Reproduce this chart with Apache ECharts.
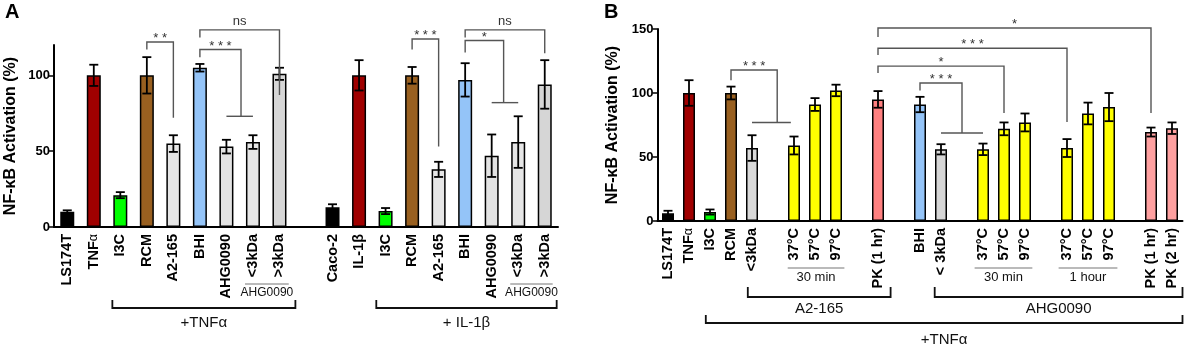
<!DOCTYPE html>
<html>
<head>
<meta charset="utf-8">
<script src="https://cdn.jsdelivr.net/npm/echarts@6/dist/echarts.min.js"></script>
<style>
  html, body { margin: 0; padding: 0; background: #fff; }
  #chart { width: 1192px; height: 348px; }
</style>
</head>
<body>
<div id="chart"></div>
<script>
// ---- panel A: NF-kB activation, TNFa (LS174T) and IL-1b (Caco-2) ----
const catsA = ['LS174T', 'TNFα', 'I3C', 'RCM', 'A2-165', 'BHI', 'AHG0090', '<3kDa', '>3kDa', '',
  'Caco-2', 'IL-1β', 'I3C', 'RCM', 'A2-165', 'BHI', 'AHG0090', '<3kDa', '>3kDa'];
const meanA = [10, 100, 21, 100, 55, 105, 53, 56, 101, null, 13, 100, 10.5, 100, 38, 97, 47, 56, 94];
const errA = [1, 7, 2, 12, 5.5, 2.5, 4.5, 4.5, 4, null, 2, 10, 2, 5.5, 5, 11, 14, 17, 16];
const yTicksA = [0, 50, 100];

// ---- panel B ----
const catsB = ['LS174T', 'TNFα', 'I3C', 'RCM', '<3kDa', '', '37°C', '57°C', '97°C', '', 'PK (1 hr)', '',
  'BHI', '< 3kDa', '', '37°C', '57°C', '97°C', '', '37°C', '57°C', '97°C', '', 'PK (1 hr)', 'PK (2 hr)'];
const meanB = [6, 100, 7, 100, 57, null, 59, 91, 102, null, 95, null,
  91, 56, null, 56, 72, 77, null, 57, 84, 89, null, 69.5, 72.5];
const errB = [2, 10, 2, 5, 10, null, 7, 5, 4.5, null, 6.5, null,
  6, 4, null, 4.5, 5, 7, null, 7, 8.5, 11, null, 3.5, 4.5];
const yTicksB = [0, 50, 100, 150];

// significance brackets: [from, to, lineY, leftEnd, rightEnd, crossFrom, crossTo]
const sigA = [
  [3, 4, 122, 117, 72, null, null],
  [5, 6.55, 117, 112, 73, 6, 7],
  [5, 8, 130, 125, 87, null, null],
  [13, 14, 124, 117, 53, null, null],
  [15, 16.45, 123, 115, 82, 16, 17],
  [15, 18, 130, 125, 114.5, null, null]
];
const sigTextA = ['**', '***', 'ns', '***', '*', 'ns'];
const sigB = [
  [3, 5.2, 118, 110, 77, 4, 5.85],
  [10, 23, 150.8, 143.7, 84.4, null, null],
  [10, 19, 135, 129.7, 77.3, null, null],
  [10, 16, 121, 115.6, 84.4, null, null],
  [12, 14, 107.8, 102, 68.7, 13, 15]
];
const sigTextB = ['***', '*', '***', '*', '***'];

// group labels under the axes: [from, to]
const subA = [[6.7, 8.35], [16.7, 18.3]];
const subTextA = ['AHG0090', 'AHG0090'];
const grpA = [[1.7, 8.6], [11.65, 18.45]];
const grpTextA = ['+TNFα', '+ IL-1β'];
const subB = [[5.7, 8.4], [14.6, 17.35], [18.6, 21.4]];
const subTextB = ['30 min', '30 min', '1 hour'];
const grpB = [[3.8, 10.6], [12.7, 24.5]];
const grpTextB = ['A2-165', 'AHG0090'];
const outerB = [[1.8, 24.5]];
const outerTextB = ['+TNFα'];

const colorA = ['#000000', '#a00000', '#00ff00', '#996020', '#e6e6e6', '#94c4f8', '#e3e3e3', '#e6e6e6', '#d6d6d6', null,
  '#000000', '#a00000', '#00ff00', '#996020', '#e6e6e6', '#94c4f8', '#e3e3e3', '#e6e6e6', '#d6d6d6'];
const Y = '#ffff00';
const colorB = ['#000000', '#a00000', '#00ff00', '#996020', '#d9d9d9', null, Y, Y, Y, null, '#ff8080', null,
  '#94c4f8', '#d6d6d6', null, Y, Y, Y, null, Y, Y, Y, null, '#ffa0a0', '#ffa0a0'];

const FONT = '"Liberation Sans", Arial, Helvetica, sans-serif';

function barData(mean, colors) {
  return mean.map((v, i) => v == null ? '-' : {
    value: v,
    itemStyle: { color: colors[i], borderColor: '#000', borderWidth: 1.5 }
  });
}
function errData(mean, err) {
  const out = [];
  mean.forEach((v, i) => { if (v != null) out.push([i, v, err[i]]); });
  return out;
}
function xPix(api, f) {
  const a = api.coord([0, 0])[0], b = api.coord([1, 0])[0];
  return a + (b - a) * f;
}
function yPix(api, v) { return api.coord([0, v])[1]; }

function renderErr(params, api) {
  const i = api.value(0), m = api.value(1), e = api.value(2);
  const hi = api.coord([i, m + e]), lo = api.coord([i, m - e]);
  const w = 4.5, st = { stroke: '#000', lineWidth: 1.8 };
  return {
    type: 'group', children: [
      { type: 'line', shape: { x1: hi[0], y1: hi[1], x2: lo[0], y2: lo[1] }, style: st },
      { type: 'line', shape: { x1: hi[0] - w, y1: hi[1], x2: hi[0] + w, y2: hi[1] }, style: st },
      { type: 'line', shape: { x1: lo[0] - w, y1: lo[1], x2: lo[0] + w, y2: lo[1] }, style: st }
    ]
  };
}

function sigRender(spec, texts) {
  return function (params, api) {
    const d = spec[params.dataIndex], t = texts[params.dataIndex];
    const x1 = xPix(api, d[0]), x2 = xPix(api, d[1]);
    const y = yPix(api, d[2]), yl = yPix(api, d[3]), yr = yPix(api, d[4]);
    const st = { stroke: '#555', lineWidth: 1.4, fill: 'none' };
    const kids = [
      { type: 'polyline', shape: { points: [[x1, yl], [x1, y], [x2, y], [x2, yr]] }, style: st },
      {
        type: 'text', x: (x1 + x2) / 2, y: t[0] === '*' ? y + 3 : y - 2,
        style: {
          text: t[0] === '*' ? t.split('').join(' ') : t, fontSize: 13, fontFamily: FONT,
          fill: '#333', align: 'center', verticalAlign: 'bottom'
        }
      }
    ];
    if (d[5] != null) {
      kids.push({ type: 'line', shape: { x1: xPix(api, d[5]), y1: yr, x2: xPix(api, d[6]), y2: yr }, style: st });
    }
    return { type: 'group', children: kids };
  };
}

// annotation below the x axis: plain line (tick == null) or bracket with up-ticks
function underRender(spec, texts, lineOff, tickOff, textOff, fontSize, stroke, lw) {
  return function (params, api) {
    const d = spec[params.dataIndex];
    const x1 = xPix(api, d[0]), x2 = xPix(api, d[1]);
    const y0 = yPix(api, 0), y = y0 + lineOff;
    const pts = tickOff == null ? [[x1, y], [x2, y]]
      : [[x1, y0 + tickOff], [x1, y], [x2, y], [x2, y0 + tickOff]];
    return {
      type: 'group', children: [
        { type: 'polyline', shape: { points: pts }, style: { stroke, lineWidth: lw, fill: 'none' } },
        {
          type: 'text', x: (x1 + x2) / 2, y: y0 + textOff,
          style: { text: texts[params.dataIndex], fontSize, fontFamily: FONT, fill: '#111', align: 'center', verticalAlign: 'top' }
        }
      ]
    };
  };
}

function customSeries(idx, spec, render) {
  return {
    type: 'custom', xAxisIndex: idx, yAxisIndex: idx, clip: false, silent: true, z: 5,
    data: spec.map(() => [0, 0]), renderItem: render
  };
}

function xAxisCfg(idx, cats, fs) {
  return {
    type: 'category', gridIndex: idx, data: cats,
    axisLine: { lineStyle: { color: '#000', width: 2 } },
    axisTick: { alignWithLabel: true, length: 4, lineStyle: { color: '#000', width: 1.5 }, interval: (i, v) => v !== '' },
    axisLabel: {
      interval: 0, rotate: 90, margin: 7, color: '#000', fontSize: fs, fontWeight: 'bold', fontFamily: FONT,
      formatter: v => v === 'TNFα' ? 'TNF{g|α}' : v,
      rich: { g: { fontSize: fs - 2, fontWeight: 'normal', fontFamily: FONT, color: '#000' } }
    }
  };
}
function yAxisCfg(idx, max, ticks, gap) {
  return {
    type: 'value', gridIndex: idx, min: 0, max: max, interval: 50,
    name: 'NF-κB Activation (%)', nameLocation: 'middle', nameGap: gap, nameRotate: 90,
    nameTextStyle: { fontSize: 16, fontWeight: 'bold', fontFamily: FONT, color: '#000' },
    splitLine: { show: false },
    axisLine: { show: true, lineStyle: { color: '#000', width: 2 } },
    axisTick: { show: true, length: 5, customValues: ticks, lineStyle: { color: '#000', width: 1.5 } },
    axisLabel: { customValues: ticks, fontSize: 13, fontWeight: 'bold', fontFamily: FONT, color: '#000', margin: 4 }
  };
}

const chart = echarts.init(document.getElementById('chart'), null, { renderer: 'canvas' });
chart.setOption({
  animation: false,
  backgroundColor: '#fff',
  grid: [
    { left: 54, top: 45, width: 504, height: 182 },
    { left: 657.5, top: 29, width: 525, height: 192 }
  ],
  xAxis: [xAxisCfg(0, catsA, 14.5), xAxisCfg(1, catsB, 14.5)],
  yAxis: [yAxisCfg(0, 120, yTicksA, 35), yAxisCfg(1, 150, yTicksB, 37)],
  graphic: [
    { type: 'text', left: 5, top: 2, style: { text: 'A', fontSize: 20, fontWeight: 'bold', fontFamily: FONT, fill: '#000' } },
    { type: 'text', left: 604, top: 2, style: { text: 'B', fontSize: 20, fontWeight: 'bold', fontFamily: FONT, fill: '#000' } }
  ],
  series: [
    { type: 'bar', xAxisIndex: 0, yAxisIndex: 0, barWidth: 14, data: barData(meanA, colorA) },
    { type: 'custom', xAxisIndex: 0, yAxisIndex: 0, clip: false, z: 4, data: errData(meanA, errA),
      encode: { x: 0, y: 1 }, renderItem: renderErr },
    customSeries(0, sigA, sigRender(sigA, sigTextA)),
    customSeries(0, subA, underRender(subA, subTextA, 57, null, 60, 12, '#777', 1.2)),
    customSeries(0, grpA, underRender(grpA, grpTextA, 81, 73, 88, 15, '#111', 1.8)),

    { type: 'bar', xAxisIndex: 1, yAxisIndex: 1, barWidth: 12, data: barData(meanB, colorB) },
    { type: 'custom', xAxisIndex: 1, yAxisIndex: 1, clip: false, z: 4, data: errData(meanB, errB),
      encode: { x: 0, y: 1 }, renderItem: renderErr },
    customSeries(1, sigB, sigRender(sigB, sigTextB)),
    customSeries(1, subB, underRender(subB, subTextB, 47, null, 50, 13, '#777', 1.2)),
    customSeries(1, grpB, underRender(grpB, grpTextB, 76, 66, 80, 15, '#111', 1.8)),
    customSeries(1, outerB, underRender(outerB, outerTextB, 102, 94, 111, 15, '#111', 1.8))
  ]
});
</script>
</body>
</html>
